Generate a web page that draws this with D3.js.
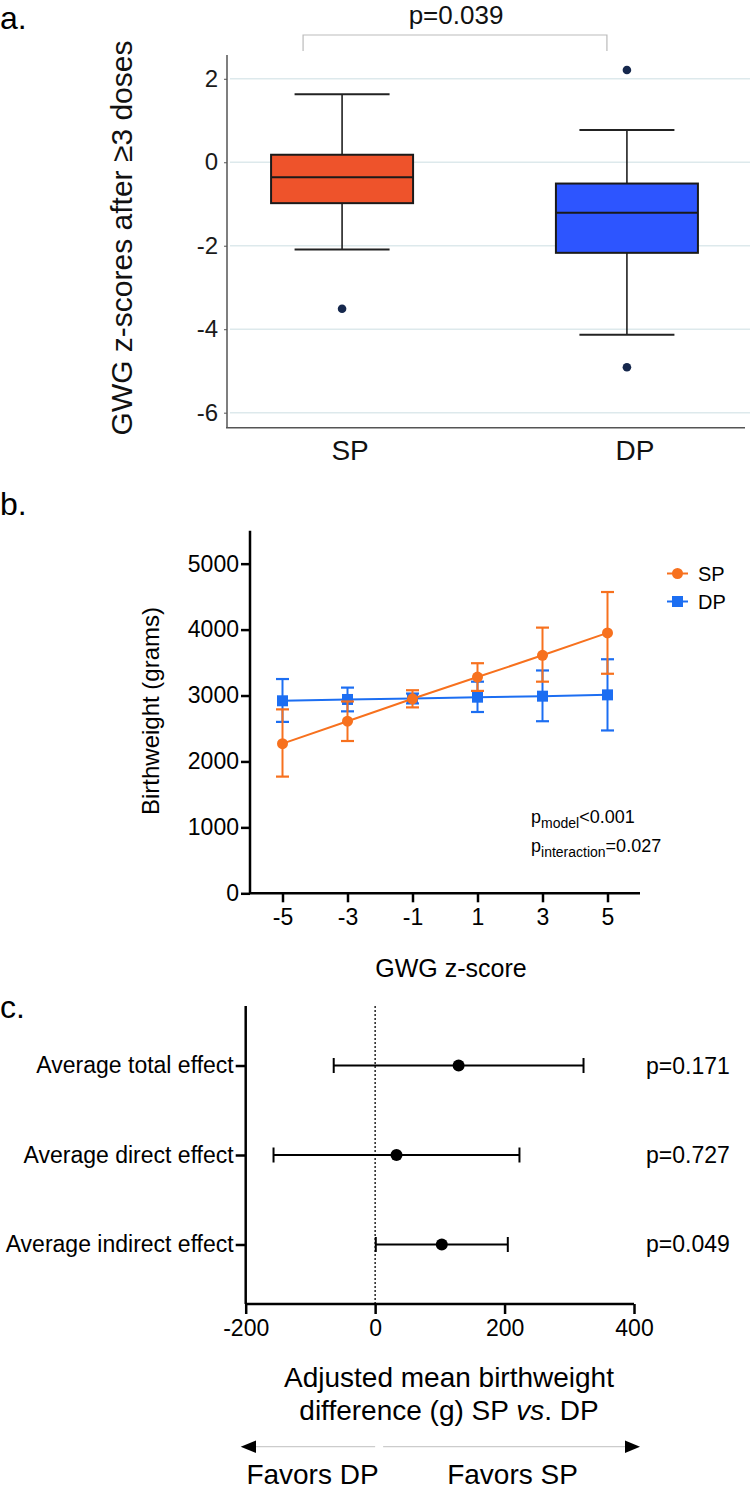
<!DOCTYPE html>
<html><head><meta charset="utf-8">
<script src="https://cdn.jsdelivr.net/npm/d3@7"></script>
<style>body{margin:0;background:#fff}svg{display:block;font-family:"Liberation Sans",Arial,Helvetica,sans-serif}</style>
</head><body>
<svg id="c" width="750" height="1490"></svg>
<script>
// ---- Panel a data (box plot) ----
const boxGroups = ["SP", "DP"];
const boxWhiskerLow = [-2.09, -4.13];
const boxQ1 = [-0.98, -2.17];
const boxMedian = [-0.36, -1.21];
const boxQ3 = [0.18, -0.51];
const boxWhiskerHigh = [1.63, 0.77];
const boxOutliers = [[-3.51], [2.21, -4.91]];
const boxTicks = [2, 0, -2, -4, -6];
const boxColors = ["#EE532B", "#2D55FF"];
const pBox = "p=0.039";

// ---- Panel b data (lines with error bars) ----
const zScores = [-5, -3, -1, 1, 3, 5];
const spMean = [2270, 2610, 2950, 3280, 3610, 3950];
const spLow = [1770, 2310, 2820, 3070, 3210, 3330];
const spHigh = [2790, 2910, 3080, 3490, 4030, 4570];
const dpMean = [2920, 2940, 2955, 2975, 2990, 3010];
const dpLow = [2600, 2760, 2880, 2750, 2610, 2470];
const dpHigh = [3250, 3120, 3030, 3210, 3380, 3550];
const bwTicks = [0, 1000, 2000, 3000, 4000, 5000];

// ---- Panel c data (forest plot) ----
const effects = ["Average total effect", "Average direct effect", "Average indirect effect"];
const effEst = [129, 33, 103];
const effLow = [-64, -157, 1];
const effHigh = [322, 223, 205];
const effP = ["p=0.171", "p=0.727", "p=0.049"];
const diffTicks = [-200, 0, 200, 400];

const svg = d3.select("#c");
const fmt = d => String(d);

// ================= Panel a =================
(function(){
  const g = svg.append("g");
  const x = d3.scalePoint().domain(boxGroups).range([227, 742]).padding(0.404);
  const y = d3.scaleLinear().domain([-6.36, 2.57]).range([427.7, 55]);
  g.append("text").attr("x", 0).attr("y", 29).attr("font-size", 32).text("a.");
  g.selectAll(".grid").data(boxTicks).join("line")
    .attr("x1", 230).attr("x2", 750).attr("y1", d => y(d)).attr("y2", d => y(d))
    .attr("stroke", "#dde9ec").attr("stroke-width", 1.5);
  const ya = d3.axisLeft(y).tickValues(boxTicks).tickSize(3).tickPadding(6).tickFormat(fmt);
  const yg = g.append("g").attr("transform", "translate(227,0)").call(ya);
  yg.select(".domain").remove();
  yg.selectAll(".tick line").attr("stroke", "#555");
  yg.selectAll(".tick text").attr("font-size", 24).attr("fill", "#1a1a1a").attr("font-family", "Liberation Sans, Arial");
  g.append("line").attr("x1", 227).attr("x2", 227).attr("y1", 55).attr("y2", 428).attr("stroke", "#555").attr("stroke-width", 1.5);
  g.append("line").attr("x1", 226).attr("x2", 745).attr("y1", 427.7).attr("y2", 427.7).attr("stroke", "#555").attr("stroke-width", 1.5);
  g.selectAll(".xl").data(boxGroups).join("text")
    .attr("x", d => x(d) + 8).attr("y", 460).attr("text-anchor", "middle").attr("font-size", 28).attr("fill", "#111").text(d => d);
  g.append("text").attr("transform", "translate(132,238) rotate(-90)").attr("text-anchor", "middle")
    .attr("font-size", 30).attr("fill", "#111").text("GWG z-scores after ≥3 doses");
  const bx1 = x("SP") - 39, bx2 = x("DP") - 20;
  g.append("path").attr("d", `M${bx1},51V35H${bx2}V51`).attr("fill", "none").attr("stroke", "#bbb").attr("stroke-width", 1.2);
  g.append("text").attr("x", 456).attr("y", 24).attr("text-anchor", "middle").attr("font-size", 26).attr("fill", "#111").text(pBox);
  const bw = 142, cw = 95;
  boxGroups.forEach((k, i) => {
    const cx = x(k);
    g.append("line").attr("x1", cx).attr("x2", cx).attr("y1", y(boxWhiskerHigh[i])).attr("y2", y(boxQ3[i])).attr("stroke", "#111").attr("stroke-width", 1.5);
    g.append("line").attr("x1", cx).attr("x2", cx).attr("y1", y(boxQ1[i])).attr("y2", y(boxWhiskerLow[i])).attr("stroke", "#111").attr("stroke-width", 1.5);
    [boxWhiskerHigh[i], boxWhiskerLow[i]].forEach(v => {
      g.append("line").attr("x1", cx - cw/2).attr("x2", cx + cw/2).attr("y1", y(v)).attr("y2", y(v)).attr("stroke", "#222").attr("stroke-width", 2);
    });
    g.append("rect").attr("x", cx - bw/2).attr("width", bw).attr("y", y(boxQ3[i])).attr("height", y(boxQ1[i]) - y(boxQ3[i]))
      .attr("fill", boxColors[i]).attr("stroke", "#1a1a1a").attr("stroke-width", 2);
    g.append("line").attr("x1", cx - bw/2).attr("x2", cx + bw/2).attr("y1", y(boxMedian[i])).attr("y2", y(boxMedian[i])).attr("stroke", "#1a1a1a").attr("stroke-width", 2);
    boxOutliers[i].forEach(v => {
      g.append("circle").attr("cx", cx).attr("cy", y(v)).attr("r", 4.3).attr("fill", "#16284d");
    });
  });
})();

// ================= Panel b =================
(function(){
  const g = svg.append("g");
  const x = d3.scaleLinear().domain([-6, 6]).range([250, 640]);
  const y = d3.scaleLinear().domain([0, 5500]).range([893.3, 530.7]);
  const orange = "#F7711E", blue = "#1C6EF2";
  g.append("text").attr("x", 0).attr("y", 515).attr("font-size", 32).text("b.");
  const xa = d3.axisBottom(x).tickValues(zScores).tickSize(9).tickPadding(6).tickFormat(fmt);
  const ya = d3.axisLeft(y).tickValues(bwTicks).tickSize(9).tickPadding(2).tickFormat(fmt);
  const xg = g.append("g").attr("transform", "translate(0,893.3)").call(xa);
  const yg = g.append("g").attr("transform", "translate(250,0)").call(ya);
  [xg, yg].forEach(a => {
    a.select(".domain").attr("stroke", "#000").attr("stroke-width", 2.5);
    a.selectAll(".tick line").attr("stroke", "#000").attr("stroke-width", 2.5);
    a.selectAll(".tick text").attr("font-size", 23).attr("fill", "#000").attr("font-family", "Liberation Sans, Arial");
  });
  xg.select(".domain").attr("d", "M250,0H640");
  yg.select(".domain").attr("d", "M0,893.3V530.7");
  g.append("text").attr("x", 451).attr("y", 977).attr("text-anchor", "middle").attr("font-size", 25).text("GWG z-score");
  g.append("text").attr("transform", "translate(159,711) rotate(-90)").attr("text-anchor", "middle").attr("font-size", 24).text("Birthweight (grams)");

  const series = [
    {mean: dpMean, lo: dpLow, hi: dpHigh, color: blue, shape: "square"},
    {mean: spMean, lo: spLow, hi: spHigh, color: orange, shape: "circle"}
  ];
  series.forEach(s => {
    const pts = zScores.map((z, i) => ({z, m: s.mean[i], lo: s.lo[i], hi: s.hi[i]}));
    const eg = g.append("g");
    pts.forEach(p => {
      eg.append("line").attr("x1", x(p.z)).attr("x2", x(p.z)).attr("y1", y(p.lo)).attr("y2", y(p.hi)).attr("stroke", s.color).attr("stroke-width", 2);
      [p.lo, p.hi].forEach(v => eg.append("line").attr("x1", x(p.z) - 6.5).attr("x2", x(p.z) + 6.5).attr("y1", y(v)).attr("y2", y(v)).attr("stroke", s.color).attr("stroke-width", 2.2));
    });
    g.append("path").datum(pts).attr("d", d3.line().x(d => x(d.z)).y(d => y(d.m)))
      .attr("fill", "none").attr("stroke", s.color).attr("stroke-width", 2);
    pts.forEach(p => {
      if (s.shape === "circle") g.append("circle").attr("cx", x(p.z)).attr("cy", y(p.m)).attr("r", 5.5).attr("fill", s.color);
      else g.append("rect").attr("x", x(p.z) - 5.5).attr("y", y(p.m) - 5.5).attr("width", 11).attr("height", 11).attr("fill", s.color);
    });
  });
  const leg = [{k: "SP", c: orange, s: "circle", y: 573.5}, {k: "DP", c: blue, s: "square", y: 601.5}];
  leg.forEach(l => {
    g.append("line").attr("x1", 667).attr("x2", 688).attr("y1", l.y).attr("y2", l.y).attr("stroke", l.c).attr("stroke-width", 2);
    if (l.s === "circle") g.append("circle").attr("cx", 677.5).attr("cy", l.y).attr("r", 5.5).attr("fill", l.c);
    else g.append("rect").attr("x", 672).attr("y", l.y - 5.5).attr("width", 11).attr("height", 11).attr("fill", l.c);
    g.append("text").attr("x", 698).attr("y", l.y + 7).attr("font-size", 20).text(l.k);
  });
  const t1 = g.append("text").attr("x", 531).attr("y", 823).attr("font-size", 18);
  t1.append("tspan").text("p");
  t1.append("tspan").attr("font-size", 14).attr("dy", 5).text("model");
  t1.append("tspan").attr("dy", -5).text("<0.001");
  const t2 = g.append("text").attr("x", 531).attr("y", 851.5).attr("font-size", 18);
  t2.append("tspan").text("p");
  t2.append("tspan").attr("font-size", 14).attr("dy", 5).text("interaction");
  t2.append("tspan").attr("dy", -5).text("=0.027");
})();

// ================= Panel c =================
(function(){
  const g = svg.append("g");
  const x = d3.scaleLinear().domain([-200, 400]).range([245.7, 634]);
  const y = d3.scalePoint().domain(effects).range([1006, 1304]).padding(0.665);
  g.append("text").attr("x", 0).attr("y", 1018).attr("font-size", 32).text("c.");
  const xa = d3.axisBottom(x).tickValues(diffTicks).tickSize(10).tickPadding(6).tickFormat(fmt);
  const ya = d3.axisLeft(y).tickSize(10).tickPadding(2);
  const xg = g.append("g").attr("transform", "translate(0,1304)").call(xa);
  const yg = g.append("g").attr("transform", "translate(245.7,0)").call(ya);
  [xg, yg].forEach(a => {
    a.select(".domain").attr("stroke", "#000").attr("stroke-width", 2.5);
    a.selectAll(".tick line").attr("stroke", "#000").attr("stroke-width", 2.5);
    a.selectAll(".tick text").attr("font-size", 23).attr("fill", "#000").attr("font-family", "Liberation Sans, Arial");
  });
  xg.select(".domain").attr("d", "M245.7,0H634");
  yg.select(".domain").attr("d", "M0,1304V1006");
  g.append("line").attr("x1", x(0)).attr("x2", x(0)).attr("y1", 1006).attr("y2", 1304).attr("stroke", "#000").attr("stroke-width", 1.3).attr("stroke-dasharray", "2,2");
  effects.forEach((e, i) => {
    const yy = y(e);
    g.append("line").attr("x1", x(effLow[i])).attr("x2", x(effHigh[i])).attr("y1", yy).attr("y2", yy).attr("stroke", "#000").attr("stroke-width", 2);
    [effLow[i], effHigh[i]].forEach(v => g.append("line").attr("x1", x(v)).attr("x2", x(v)).attr("y1", yy - 7.5).attr("y2", yy + 7.5).attr("stroke", "#000").attr("stroke-width", 2));
    g.append("circle").attr("cx", x(effEst[i])).attr("cy", yy).attr("r", 6).attr("fill", "#000");
    g.append("text").attr("x", 646).attr("y", yy + 8).attr("font-size", 23).text(effP[i]);
  });
  const tt = g.append("text").attr("text-anchor", "middle").attr("font-size", 28);
  tt.append("tspan").attr("x", 449).attr("y", 1386.5).text("Adjusted mean birthweight");
  const l2 = g.append("text").attr("text-anchor", "middle").attr("font-size", 28).attr("x", 449).attr("y", 1419.5);
  l2.append("tspan").text("difference (g) SP ");
  l2.append("tspan").attr("font-style", "italic").text("vs");
  l2.append("tspan").text(". DP");
  g.append("line").attr("x1", 254).attr("x2", x(0)).attr("y1", 1446.7).attr("y2", 1446.7).attr("stroke", "#ccc").attr("stroke-width", 1.2);
  g.append("line").attr("x1", x(0) + 8).attr("x2", 627).attr("y1", 1446.7).attr("y2", 1446.7).attr("stroke", "#ccc").attr("stroke-width", 1.2);
  g.append("path").attr("d", "M240.7,1446.7L256,1440.5V1452.9Z").attr("fill", "#000");
  g.append("path").attr("d", "M640,1446.7L625,1440.5V1452.9Z").attr("fill", "#000");
  g.append("text").attr("x", 312.5).attr("y", 1484).attr("text-anchor", "middle").attr("font-size", 28).text("Favors DP");
  g.append("text").attr("x", 512.5).attr("y", 1484).attr("text-anchor", "middle").attr("font-size", 28).text("Favors SP");
})();
</script>
</body></html>
